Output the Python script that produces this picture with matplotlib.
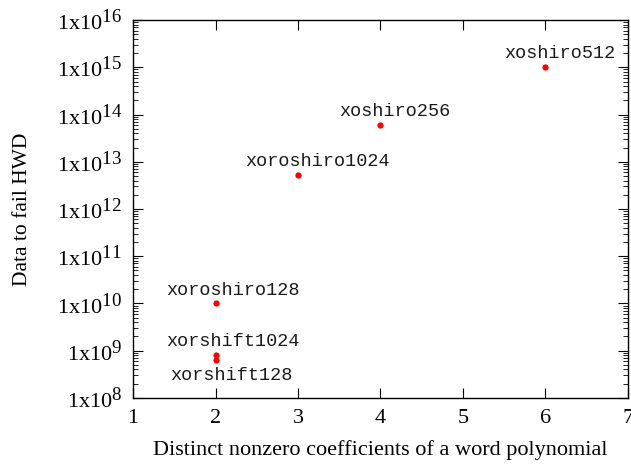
import math
import matplotlib
matplotlib.use("Agg")
import matplotlib.pyplot as plt
from matplotlib.ticker import LogLocator, FixedLocator, NullFormatter, FuncFormatter
try:
    import matplotlib._mathtext as _mt
    _mt.SHRINK_FACTOR = 0.85
except Exception:
    pass

names = ["xorshift128", "xorshift1024", "xoroshiro128", "xoroshiro1024", "xoshiro256", "xoshiro512"]
coeffs = [2, 2, 2, 3, 4, 6]
data_to_fail = [6.2e8, 8.2e8, 1.0e10, 5.3e12, 6.1e13, 1.0e15]
label_dy = [-11, 9.5, 9, 9.5, 9.5, 10]  # points, vertical offset of label centre

plt.rcParams['font.family'] = ['Liberation Serif', 'DejaVu Serif']
plt.rcParams['mathtext.fontset'] = 'custom'
plt.rcParams['mathtext.rm'] = 'Liberation Serif'
plt.rcParams['mathtext.it'] = 'Liberation Serif:italic'
plt.rcParams['mathtext.bf'] = 'Liberation Serif:bold'

fig = plt.figure(figsize=(6.31, 4.68), dpi=100)
ax = fig.add_axes([0.211, 0.150, 0.784, 0.807])

ax.plot(coeffs, data_to_fail, 'o', color='#ff0000', markersize=4.5, markeredgewidth=0, zorder=3)
for n, x, y, dy in zip(names, coeffs, data_to_fail, label_dy):
    # gnuplot-style "centred" label: starts left of the point by len*~2.95pt
    ax.annotate(n, (x, y), xytext=(-len(n) * 2.95, dy), textcoords='offset points',
                ha='left', va='center', fontsize=13.3, family='Liberation Mono', color='#1a1a1a')

ax.set_yscale('log')
ax.set_xlim(1, 7)
ax.set_ylim(1e8, 1e16)
ax.xaxis.set_major_locator(FixedLocator([1, 2, 3, 4, 5, 6, 7]))
ax.yaxis.set_major_locator(LogLocator(base=10, numticks=20))
ax.yaxis.set_minor_locator(LogLocator(base=10, subs=range(2, 10), numticks=20))
ax.yaxis.set_minor_formatter(NullFormatter())

def fmt(v, pos):
    e = int(round(math.log10(v)))
    return r'1x10$^{%d}$' % e
ax.yaxis.set_major_formatter(FuncFormatter(fmt))

ax.tick_params(which='both', direction='in', top=True, right=True, labelsize=16, colors='black')
ax.tick_params(which='major', length=7, width=0.8)
ax.tick_params(which='minor', length=3.5, width=0.6)
ax.tick_params(axis='x', pad=8)
ax.tick_params(axis='y', pad=8)
for s in ax.spines.values():
    s.set_linewidth(1.0)

ax.set_xlabel('Distinct nonzero coefficients of a word polynomial', fontsize=16, labelpad=9)
ax.set_ylabel('Data to fail HWD', fontsize=15.5, labelpad=18)

fig.savefig('out.png', dpi=100)
